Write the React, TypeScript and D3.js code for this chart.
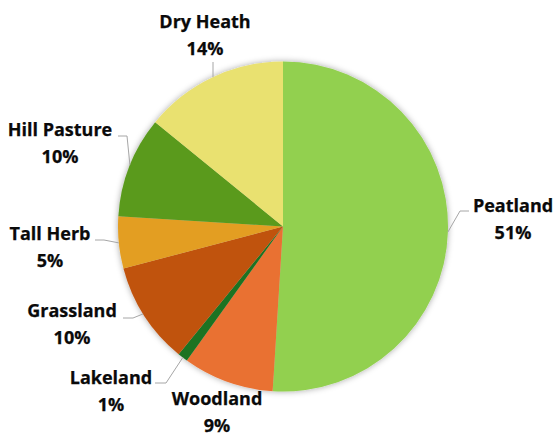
import React from "react";
import * as d3 from "d3";

const categories = ["Peatland", "Woodland", "Lakeland", "Grassland", "Tall Herb", "Hill Pasture", "Dry Heath"];
const values = [51.0, 8.9, 1.0, 10.0, 5.1, 9.9, 14.1];
const percentLabels = ["51%", "9%", "1%", "10%", "5%", "10%", "14%"];
const colors = ["#92D050", "#E97132", "#1E7324", "#C0530F", "#E39E21", "#5A9A1E", "#E9E170"];

// layout: label centre x, first baseline y, leader polyline start points and edge angle (deg)
const labelLayout = [
  { x: 513, y: 212, leader: [[469, 211], [460, 211]], edge: 91.9 },
  { x: 217, y: 405, leader: null, edge: 0 },
  { x: 111, y: 384, leader: [[155, 383], [166, 383]], edge: 217.4 },
  { x: 72, y: 317, leader: [[123, 318], [133, 318]], edge: 238 },
  { x: 50, y: 240, leader: [[95, 240], [104, 240]], edge: 264.3 },
  { x: 60, y: 136, leader: [[118, 136], [127, 136]], edge: 291.9 },
  { x: 205, y: 28, leader: [[213, 62]], edge: 334.9 },
];

const W = 555, H = 435;
const cx = 283, cy = 226.5, R = 165;

export default function App() {
  const pie = d3.pie<number>().sort(null).value((d) => d);
  const arcs = pie(values);
  const arc = d3.arc<d3.PieArcDatum<number>>().innerRadius(0).outerRadius(R);
  const line = d3.line();

  return (
    <svg width={W} height={H} style={{ position: "absolute", left: 0, top: 0 }}>
      <defs>
        <filter id="sh" x="-20%" y="-20%" width="140%" height="140%">
          <feDropShadow dx="0" dy="0" stdDeviation="3" floodColor="#000" floodOpacity="0.35" />
        </filter>
      </defs>
      <rect width={W} height={H} fill="#fff" />
      <g transform={`translate(${cx},${cy})`} filter="url(#sh)">
        {arcs.map((a, i) => (
          <path key={i} d={arc(a) || ""} fill={colors[i]} />
        ))}
      </g>
      {labelLayout.map((l, i) => {
        if (!l.leader) return null;
        const t = (l.edge * Math.PI) / 180;
        const end: [number, number] = [cx + R * Math.sin(t), cy - R * Math.cos(t)];
        const pts = [...(l.leader as [number, number][]), end];
        return <path key={"l" + i} d={line(pts) || ""} fill="none" stroke="#A6A6A6" strokeWidth={1} />;
      })}
      {categories.map((c, i) => (
        <text
          key={"t" + i}
          x={labelLayout[i].x}
          y={labelLayout[i].y}
          textAnchor="middle"
          fontFamily="'Open Sans', sans-serif"
          fontWeight={700}
          fontSize={18}
          fill="#0a0a0a"
          stroke="#0a0a0a"
          strokeWidth={0.25}
        >
          <tspan x={labelLayout[i].x}>{c}</tspan>
          <tspan x={labelLayout[i].x} dy={26.5}>{percentLabels[i]}</tspan>
        </text>
      ))}
    </svg>
  );
}
